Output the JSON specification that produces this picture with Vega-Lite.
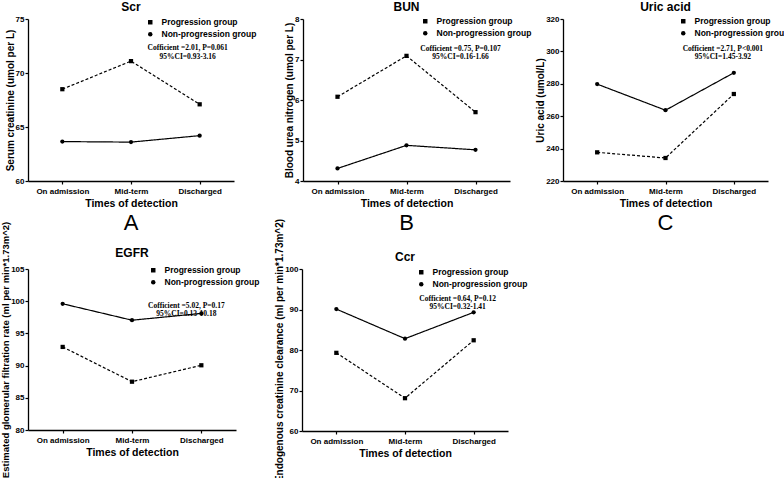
{
  "$schema": "https://vega.github.io/schema/vega-lite/v6.json",
  "padding": {"left": 0, "top": 1, "right": 2, "bottom": 0},
  "background": "white",
  "datasets": {
    "A": [
      {"time": "On admission", "group": "Progression group", "value": 68.5},
      {"time": "Mid-term", "group": "Progression group", "value": 71.1},
      {"time": "Discharged", "group": "Progression group", "value": 67.1},
      {"time": "On admission", "group": "Non-progression group", "value": 63.65},
      {"time": "Mid-term", "group": "Non-progression group", "value": 63.6},
      {"time": "Discharged", "group": "Non-progression group", "value": 64.2}
    ],
    "B": [
      {"time": "On admission", "group": "Progression group", "value": 6.08},
      {"time": "Mid-term", "group": "Progression group", "value": 7.09},
      {"time": "Discharged", "group": "Progression group", "value": 5.7},
      {"time": "On admission", "group": "Non-progression group", "value": 4.31},
      {"time": "Mid-term", "group": "Non-progression group", "value": 4.88},
      {"time": "Discharged", "group": "Non-progression group", "value": 4.77}
    ],
    "C": [
      {"time": "On admission", "group": "Progression group", "value": 237.7},
      {"time": "Mid-term", "group": "Progression group", "value": 234.2},
      {"time": "Discharged", "group": "Progression group", "value": 273.7},
      {"time": "On admission", "group": "Non-progression group", "value": 279.8},
      {"time": "Mid-term", "group": "Non-progression group", "value": 263.7},
      {"time": "Discharged", "group": "Non-progression group", "value": 286.8}
    ],
    "D": [
      {"time": "On admission", "group": "Progression group", "value": 92.9},
      {"time": "Mid-term", "group": "Progression group", "value": 87.5},
      {"time": "Discharged", "group": "Progression group", "value": 90.05},
      {"time": "On admission", "group": "Non-progression group", "value": 99.6},
      {"time": "Mid-term", "group": "Non-progression group", "value": 97.05},
      {"time": "Discharged", "group": "Non-progression group", "value": 98.1}
    ],
    "E": [
      {"time": "On admission", "group": "Progression group", "value": 79.3},
      {"time": "Mid-term", "group": "Progression group", "value": 68.1},
      {"time": "Discharged", "group": "Progression group", "value": 82.4},
      {"time": "On admission", "group": "Non-progression group", "value": 90.1},
      {"time": "Mid-term", "group": "Non-progression group", "value": 82.8},
      {"time": "Discharged", "group": "Non-progression group", "value": 89.3}
    ]
  },
  "config": {
    "view": {"stroke": null},
    "font": "Liberation Sans",
    "axis": {
      "grid": false,
      "domainColor": "black",
      "domainWidth": 1.3,
      "tickColor": "black",
      "tickWidth": 1.2,
      "tickSize": 3,
      "labelPadding": 1,
      "labelFont": "Liberation Sans",
      "labelFontWeight": "bold",
      "labelFontSize": 8,
      "labelColor": "black",
      "titleFont": "Liberation Sans",
      "titleFontWeight": "bold",
      "titleFontSize": 10.5,
      "titleColor": "black"
    },
    "axisX": {"labelAngle": 0, "titlePadding": 3, "labelPadding": 3},
    "axisY": {"titlePadding": 0, "titleFontSize": 10},
    "title": {"font": "Liberation Sans", "fontSize": 22, "fontWeight": "normal", "color": "black", "orient": "bottom", "offset": 0, "anchor": "middle"},
    "legend": {"orient": "none", "title": null, "labelFont": "Liberation Sans", "labelFontWeight": "bold", "labelFontSize": 8.5, "labelColor": "black", "symbolSize": 20, "symbolFillColor": "black", "symbolStrokeColor": "black", "rowPadding": 1, "labelOffset": 7, "padding": 0}
  },
  "spacing": -16,
  "resolve": {"scale": {"shape": "independent"}, "legend": {"shape": "independent"}},
  "vconcat": [
    {
      "spacing": 27,
      "resolve": {"scale": {"shape": "independent"}, "legend": {"shape": "independent"}},
      "hconcat": [
        {
          "width": 206, "height": 162,
          "data": {"name": "A"},
          "title": {"text": "A"},
          "encoding": {
            "x": {"field": "time", "type": "ordinal", "sort": ["On admission", "Mid-term", "Discharged"], "scale": {"type": "point", "padding": 0.5}, "axis": {"title": "Times of detection"}},
            "y": {"field": "value", "type": "quantitative", "scale": {"domain": [60, 75], "zero": false, "nice": false}, "axis": {"values": [60, 65, 70, 75], "title": "Serum creatinine (umol per L)"}}
          },
          "layer": [
            {"mark": {"type": "line", "color": "black", "strokeWidth": 1.2}, "encoding": {"detail": {"field": "group"}, "strokeDash": {"condition": {"test": "datum.group === 'Progression group'", "value": [3, 2]}, "value": [1, 0]}}},
            {"mark": {"type": "point", "filled": true, "color": "black", "opacity": 1, "size": 18},
             "encoding": {"shape": {"field": "group", "scale": {"domain": ["Progression group", "Non-progression group"], "range": ["square", "circle"]},
               "legend": {"legendX": 118, "legendY": -1}}}},
            {"transform": [{"filter": "datum.time === 'Mid-term' && datum.group === 'Progression group'"}], "mark": {"type": "text", "text": "Scr", "font": "Liberation Sans", "fontWeight": "bold", "fontSize": 12, "dy": -12, "color": "black"}, "encoding": {"x": {"datum": "Mid-term"}, "y": {"datum": 75}}},
            {"transform": [{"filter": "datum.time === 'Discharged' && datum.group === 'Progression group'"}], "mark": {"type": "text", "text": ["Cofficient =2.01, P=0.061", "95%CI=0.93-3.16"], "font": "Liberation Serif", "fontWeight": "bold", "fontSize": 7.5, "lineHeight": 8.5, "dx": -12, "color": "black"}, "encoding": {"x": {"datum": "Discharged"}, "y": {"datum": 72.3}}}
          ]
        },
        {
          "spacing": 3,
          "resolve": {"scale": {"shape": "independent"}, "legend": {"shape": "independent"}},
          "hconcat": [
            {
              "width": 207, "height": 162,
              "data": {"name": "B"},
              "title": {"text": "B"},
              "encoding": {
                "x": {"field": "time", "type": "ordinal", "sort": ["On admission", "Mid-term", "Discharged"], "scale": {"type": "point", "padding": 0.5}, "axis": {"title": "Times of detection"}},
                "y": {"field": "value", "type": "quantitative", "scale": {"domain": [4, 8], "zero": false, "nice": false}, "axis": {"values": [4, 5, 6, 7, 8], "title": "Blood urea nitrogen (umol per L)"}}
              },
              "layer": [
                {"mark": {"type": "line", "color": "black", "strokeWidth": 1.2}, "encoding": {"detail": {"field": "group"}, "strokeDash": {"condition": {"test": "datum.group === 'Progression group'", "value": [3, 2]}, "value": [1, 0]}}},
                {"mark": {"type": "point", "filled": true, "color": "black", "opacity": 1, "size": 18},
                 "encoding": {"shape": {"field": "group", "scale": {"domain": ["Progression group", "Non-progression group"], "range": ["square", "circle"]},
                   "legend": {"legendX": 118, "legendY": -2}}}},
                {"transform": [{"filter": "datum.time === 'Mid-term' && datum.group === 'Progression group'"}], "mark": {"type": "text", "text": "BUN", "font": "Liberation Sans", "fontWeight": "bold", "fontSize": 12, "dy": -12, "color": "black"}, "encoding": {"x": {"datum": "Mid-term"}, "y": {"datum": 8}}},
                {"transform": [{"filter": "datum.time === 'Discharged' && datum.group === 'Progression group'"}], "mark": {"type": "text", "text": ["Cofficient =0.75, P=0.107", "95%CI=0.16-1.66"], "font": "Liberation Serif", "fontWeight": "bold", "fontSize": 7.5, "lineHeight": 8.5, "dx": -15, "color": "black"}, "encoding": {"x": {"datum": "Discharged"}, "y": {"datum": 7.27}}}
              ]
            },
            {
              "width": 205, "height": 162,
              "data": {"name": "C"},
              "title": {"text": "C"},
              "encoding": {
                "x": {"field": "time", "type": "ordinal", "sort": ["On admission", "Mid-term", "Discharged"], "scale": {"type": "point", "padding": 0.5}, "axis": {"title": "Times of detection"}},
                "y": {"field": "value", "type": "quantitative", "scale": {"domain": [220, 320], "zero": false, "nice": false}, "axis": {"values": [220, 240, 260, 280, 300, 320], "title": "Uric acid (umol/L)"}}
              },
              "layer": [
                {"mark": {"type": "line", "color": "black", "strokeWidth": 1.2}, "encoding": {"detail": {"field": "group"}, "strokeDash": {"condition": {"test": "datum.group === 'Progression group'", "value": [3, 2]}, "value": [1, 0]}}},
                {"mark": {"type": "point", "filled": true, "color": "black", "opacity": 1, "size": 18},
                 "encoding": {"shape": {"field": "group", "scale": {"domain": ["Progression group", "Non-progression group"], "range": ["square", "circle"]},
                   "legend": {"legendX": 116, "legendY": -2}}}},
                {"transform": [{"filter": "datum.time === 'Mid-term' && datum.group === 'Progression group'"}], "mark": {"type": "text", "text": "Uric acid", "font": "Liberation Sans", "fontWeight": "bold", "fontSize": 12, "dy": -12, "color": "black"}, "encoding": {"x": {"datum": "Mid-term"}, "y": {"datum": 320}}},
                {"transform": [{"filter": "datum.time === 'Discharged' && datum.group === 'Progression group'"}], "mark": {"type": "text", "text": ["Cofficient =2.71, P<0.001", "95%CI=1.45-3.92"], "font": "Liberation Serif", "fontWeight": "bold", "fontSize": 7.5, "lineHeight": 8.5, "dx": -11, "color": "black"}, "encoding": {"x": {"datum": "Discharged"}, "y": {"datum": 301.5}}}
              ]
            }
          ]
        }
      ]
    },
    {
      "spacing": 14,
      "resolve": {"scale": {"shape": "independent"}, "legend": {"shape": "independent"}},
      "hconcat": [
        {
          "width": 208, "height": 161,
          "data": {"name": "D"},
          "title": {"text": "D"},
          "encoding": {
            "x": {"field": "time", "type": "ordinal", "sort": ["On admission", "Mid-term", "Discharged"], "scale": {"type": "point", "padding": 0.5}, "axis": {"title": "Times of detection"}},
            "y": {"field": "value", "type": "quantitative", "scale": {"domain": [80, 105], "zero": false, "nice": false}, "axis": {"values": [80, 85, 90, 95, 100, 105], "title": "Estimated glomerular filtration rate (ml per min*1.73m^2)", "titleFontSize": 9.5}}
          },
          "layer": [
            {"mark": {"type": "line", "color": "black", "strokeWidth": 1.2}, "encoding": {"detail": {"field": "group"}, "strokeDash": {"condition": {"test": "datum.group === 'Progression group'", "value": [3, 2]}, "value": [1, 0]}}},
            {"mark": {"type": "point", "filled": true, "color": "black", "opacity": 1, "size": 18},
             "encoding": {"shape": {"field": "group", "scale": {"domain": ["Progression group", "Non-progression group"], "range": ["square", "circle"]},
               "legend": {"legendX": 121, "legendY": -3}}}},
            {"transform": [{"filter": "datum.time === 'Mid-term' && datum.group === 'Progression group'"}], "mark": {"type": "text", "text": "EGFR", "font": "Liberation Sans", "fontWeight": "bold", "fontSize": 12, "dy": -16, "color": "black"}, "encoding": {"x": {"datum": "Mid-term"}, "y": {"datum": 105}}},
            {"transform": [{"filter": "datum.time === 'Discharged' && datum.group === 'Progression group'"}], "mark": {"type": "text", "text": ["Cofficient =5.02, P=0.17", "95%CI=0.13-10.18"], "font": "Liberation Serif", "fontWeight": "bold", "fontSize": 7.5, "lineHeight": 8.5, "dx": -15, "color": "black"}, "encoding": {"x": {"datum": "Discharged"}, "y": {"datum": 99.3}}}
          ]
        },
        {
          "width": 206, "height": 162,
          "data": {"name": "E"},
          "title": {"text": "E"},
          "encoding": {
            "x": {"field": "time", "type": "ordinal", "sort": ["On admission", "Mid-term", "Discharged"], "scale": {"type": "point", "padding": 0.5}, "axis": {"title": "Times of detection"}},
            "y": {"field": "value", "type": "quantitative", "scale": {"domain": [60, 100], "zero": false, "nice": false}, "axis": {"values": [60, 70, 80, 90, 100], "title": "Endogenous creatinine clearance (ml per min*1.73m^2)"}}
          },
          "layer": [
            {"mark": {"type": "line", "color": "black", "strokeWidth": 1.2}, "encoding": {"detail": {"field": "group"}, "strokeDash": {"condition": {"test": "datum.group === 'Progression group'", "value": [3, 2]}, "value": [1, 0]}}},
            {"mark": {"type": "point", "filled": true, "color": "black", "opacity": 1, "size": 18},
             "encoding": {"shape": {"field": "group", "scale": {"domain": ["Progression group", "Non-progression group"], "range": ["square", "circle"]},
               "legend": {"legendX": 115, "legendY": -1}}}},
            {"transform": [{"filter": "datum.time === 'Mid-term' && datum.group === 'Progression group'"}], "mark": {"type": "text", "text": "Ccr", "font": "Liberation Sans", "fontWeight": "bold", "fontSize": 12, "dy": -12, "color": "black"}, "encoding": {"x": {"datum": "Mid-term"}, "y": {"datum": 100}}},
            {"transform": [{"filter": "datum.time === 'Discharged' && datum.group === 'Progression group'"}], "mark": {"type": "text", "text": ["Cofficient =0.64, P=0.12", "95%CI=0.32-1.41"], "font": "Liberation Serif", "fontWeight": "bold", "fontSize": 7.5, "lineHeight": 8.5, "dx": -16, "color": "black"}, "encoding": {"x": {"datum": "Discharged"}, "y": {"datum": 92.6}}}
          ]
        }
      ]
    }
  ]
}
